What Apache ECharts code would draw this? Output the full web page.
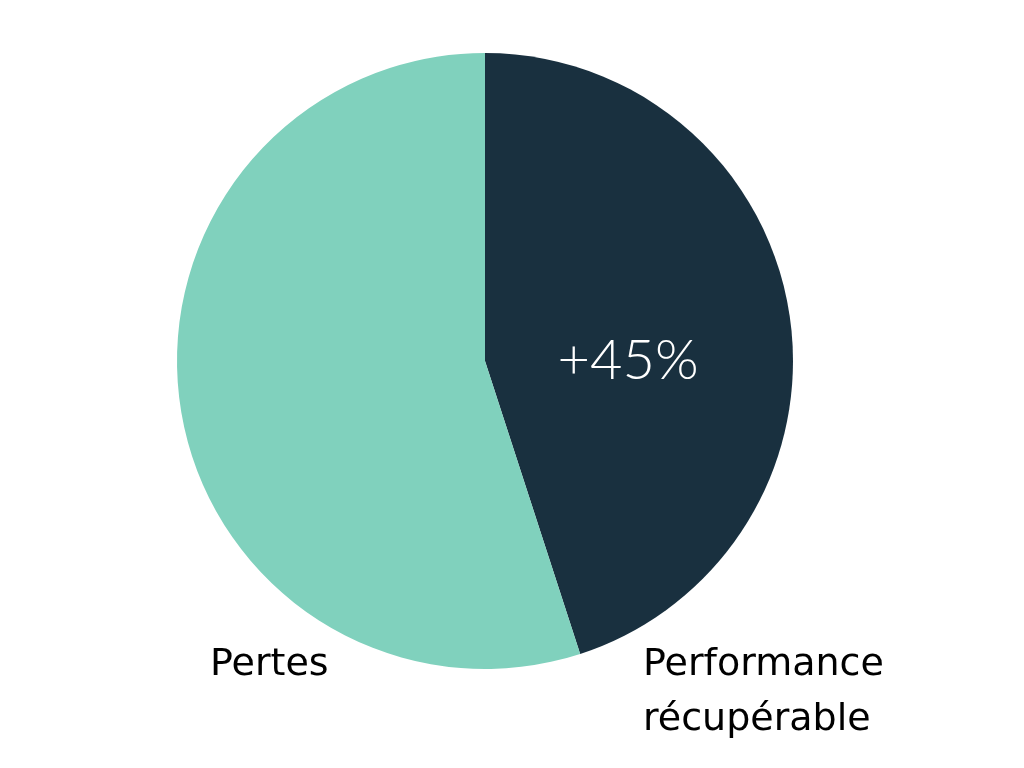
<!DOCTYPE html>
<html><head><meta charset="utf-8">
<script src="https://cdn.jsdelivr.net/npm/echarts@6/dist/echarts.min.js"></script>
<style>html,body{margin:0;padding:0;background:#fff}#c{width:1024px;height:768px}</style>
</head><body><div id="c"></div>
<script>
const categories = ['Performance\nrécupérable', 'Pertes'];
const values = [45, 55];
const centerLabel = '+45%';
const colors = ['#19303F', '#80D1BD'];

const chart = echarts.init(document.getElementById('c'));
const LABEL_FONT = '"DejaVu Sans"';
chart.setOption({
  animation: false,
  series: [{
    type: 'pie',
    center: [485, 361],
    radius: [0, 308],
    startAngle: 90,
    clockwise: true,
    silent: true,
    data: categories.map((n, i) => ({
      name: n, value: values[i], itemStyle: { color: colors[i] },
      label: i === 0 ? {
        show: true, position: 'inside', formatter: centerLabel,
        color: '#fff', fontSize: 56, fontFamily: 'Lato', fontWeight: 300, offset: [-12, 24]
      } : { show: false }
    })),
    labelLine: { show: false }
  }],
  graphic: [
    { type: 'text', x: 643, y: 638, style: { text: categories[0], font: '38px ' + LABEL_FONT, fill: '#000', lineHeight: 55 } },
    { type: 'text', x: 210, y: 638, style: { text: categories[1], font: '38px ' + LABEL_FONT, fill: '#000', lineHeight: 55 } }
  ]
});
</script></body></html>
